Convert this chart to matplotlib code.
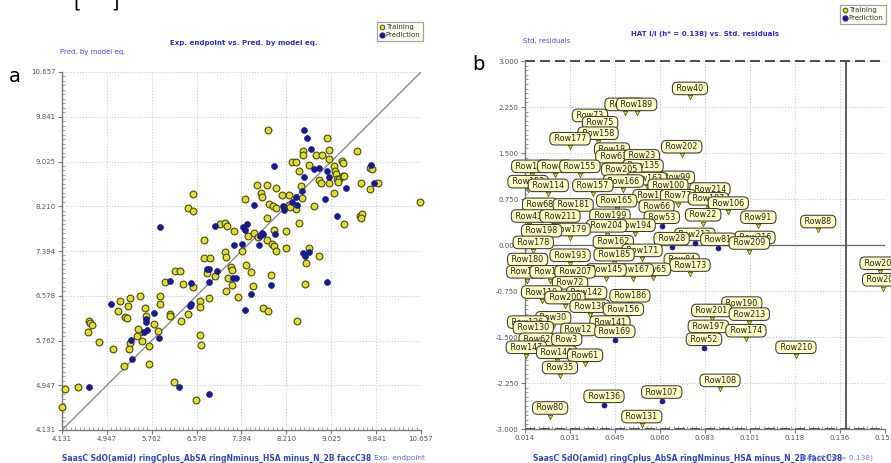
import numpy as np
import matplotlib
matplotlib.use('Agg')
import matplotlib.pyplot as plt
from matplotlib.ticker import AutoMinorLocator
from matplotlib.lines import Line2D

plt.rcParams['font.family'] = ['DejaVu Sans']

# ---------------- Panel a data (Exp. endpoint vs Pred. by model eq.) ----------------
a_ticklabels = ['4.131', '4.947', '5.762', '6.578', '7.394', '8.210', '9.025', '9.841', '10.657']
a_lo, a_hi = 4.131, 10.657

train_exp = [6.51, 6.42, 6.51, 7.00, 7.10, 7.13, 6.71, 7.09, 6.71, 6.83, 7.11, 7.87, 8.95, 8.51, 8.51,
             8.99, 8.74, 8.86, 8.98, 9.50, 8.31, 8.39, 8.63, 8.44, 9.07, 9.22, 9.24, 9.73, 9.77, 9.10,
             9.12, 9.13, 9.17, 9.24, 9.26, 9.14, 8.80, 8.84, 8.99, 9.57, 9.87, 9.73, 7.67, 7.85, 8.02,
             8.47, 7.75, 7.76, 7.46, 8.13, 8.26, 8.49, 9.08, 7.89, 7.97, 8.02, 8.26, 8.38, 8.28, 8.71,
             10.64, 9.54, 9.59, 9.56, 9.25, 7.85, 8.44,
             7.25, 7.51, 7.62, 7.99, 8.20, 7.85, 7.94, 7.99, 8.03, 7.70, 7.40, 8.20, 8.63, 8.81, 8.57,
             6.77, 6.91, 7.20, 7.22, 7.15, 7.47, 7.57, 7.93, 7.23, 7.61, 7.11, 7.33, 6.81, 6.64, 8.54,
             7.78, 7.88, 8.40, 6.64, 6.64, 6.66,
             6.19, 6.28, 6.01, 6.33, 6.51, 5.55, 5.91, 5.19, 5.36, 5.33, 5.15, 5.64, 5.91, 6.10, 6.10,
             6.42, 5.28, 5.31, 5.65, 5.80, 6.29, 4.62, 4.64, 4.68, 4.60, 4.81, 5.55, 5.51, 5.50, 5.59,
             5.37, 5.88, 5.71, 5.05, 5.34, 5.25, 5.71, 4.19, 4.42, 6.17, 6.57, 4.13]
train_pred = [8.44, 8.17, 8.13, 7.88, 7.90, 7.85, 7.60, 7.37, 7.26, 7.26, 7.28, 9.60, 9.45, 9.22, 9.15,
              9.24, 9.14, 9.14, 9.07, 9.21, 9.02, 9.02, 8.97, 8.86, 8.95, 9.03, 9.00, 8.90, 8.88, 8.86,
              8.80, 8.71, 8.70, 8.76, 8.76, 8.66, 8.69, 8.63, 8.64, 8.64, 8.64, 8.52, 8.60, 8.60, 8.54,
              8.57, 8.45, 8.37, 8.34, 8.42, 8.41, 8.36, 8.46, 8.25, 8.21, 8.17, 8.24, 8.16, 8.20, 8.21,
              8.28, 8.03, 8.06, 8.00, 7.88, 8.00, 7.90,
              7.75, 7.66, 7.73, 7.77, 7.75, 7.59, 7.53, 7.48, 7.40, 7.65, 7.39, 7.44, 7.44, 7.31, 7.17,
              6.99, 6.94, 7.11, 7.05, 6.91, 7.13, 7.02, 6.95, 6.78, 6.75, 6.66, 6.56, 6.54, 6.49, 6.80,
              6.36, 6.30, 6.11, 6.37, 5.86, 5.68,
              7.03, 7.03, 6.82, 6.80, 6.74, 6.58, 6.57, 6.48, 6.54, 6.39, 6.30, 6.36, 6.42, 6.25, 6.21,
              6.25, 6.19, 6.17, 6.20, 6.06, 6.11, 6.12, 6.08, 6.05, 5.91, 5.74, 5.91, 5.97, 5.84, 5.76,
              5.71, 5.93, 5.67, 5.61, 5.60, 5.30, 5.33, 4.87, 4.91, 5.00, 4.68, 4.55]

predset_exp = [5.91, 6.91, 8.53, 8.59, 8.65, 7.98, 8.80, 8.72, 9.75, 8.95, 8.99, 8.53, 9.30, 9.80, 8.49,
               8.39, 8.91, 7.63, 8.14, 8.16, 8.31, 8.40, 9.13, 7.42, 7.45, 7.50, 7.76, 7.79, 7.73, 8.00,
               7.25, 7.41, 7.71, 8.51, 8.54, 8.63, 6.76, 6.81, 6.94, 7.24, 7.30, 6.80, 7.93, 7.57, 8.95,
               7.46, 6.81, 6.10, 6.48, 5.03, 5.80, 6.47, 6.46, 5.66, 5.66, 5.67, 5.62, 5.39, 5.90, 5.40,
               4.62, 6.26]
predset_pred = [7.84, 7.85, 9.60, 9.46, 9.25, 8.94, 8.90, 8.88, 8.97, 8.86, 8.74, 8.74, 8.54, 8.64, 8.48,
                8.37, 8.34, 8.24, 8.21, 8.15, 8.28, 8.23, 8.04, 7.83, 7.77, 7.88, 7.73, 7.70, 7.66, 7.70,
                7.50, 7.53, 7.51, 7.35, 7.30, 7.37, 7.06, 7.06, 7.03, 6.91, 6.91, 6.83, 6.77, 6.61, 6.83,
                6.31, 4.79, 6.85, 6.81, 6.42, 6.27, 6.43, 6.39, 6.15, 6.10, 5.95, 5.92, 5.77, 5.80, 5.43,
                4.91, 4.91]

# ---------------- Panel b data (HAT vs Std. residuals) ----------------
b_xticklabels = ['0.014', '0.031', '0.049', '0.066', '0.083', '0.101', '0.118', '0.136', '0.153']
b_yticklabels = ['-3.000', '-2.250', '-1.500', '-0.750', '0.000', '0.750', '1.500', '2.250', '3.000']
b_xlo, b_xhi = 0.014, 0.153
h_star = 0.138

b_names = ['Row40', 'Row183', 'Row189', 'Row73', 'Row75', 'Row158', 'Row177', 'Row202', 'Row18', 'Row63',
           'Row23', 'Row151', 'Row47', 'Row155', 'Row135', 'Row205', 'Row99', 'Row163', 'Row166', 'Row152',
           'Row114', 'Row157', 'Row100', 'Row214', 'Row110', 'Row77', 'Row187', 'Row165', 'Row106', 'Row68',
           'Row181', 'Row66', 'Row22', 'Row43', 'Row211', 'Row199', 'Row91', 'Row53', 'Row88', 'Row194',
           'Row204', 'Row179', 'Row198', 'Row212', 'Row216', 'Row28', 'Row81', 'Row162', 'Row178', 'Row209',
           'Row171', 'Row185', 'Row193', 'Row84', 'Row180', 'Row173', 'Row206', 'Row65', 'Row167', 'Row145',
           'Row129', 'Row127', 'Row207', 'Row208', 'Row72', 'Row119', 'Row142', 'Row186', 'Row200', 'Row190',
           'Row138', 'Row156', 'Row201', 'Row213', 'Row30', 'Row126', 'Row141', 'Row197', 'Row130', 'Row12',
           'Row174', 'Row169', 'Row62', 'Row3', 'Row52', 'Row147', 'Row210', 'Row146', 'Row61', 'Row35',
           'Row108', 'Row107', 'Row136', 'Row80', 'Row131']
b_hat = [0.0777, 0.0526, 0.0571, 0.0391, 0.0430, 0.0422, 0.0314, 0.0745, 0.0476, 0.0481,
         0.0591, 0.0166, 0.0256, 0.0352, 0.0596, 0.0513, 0.0726, 0.0610, 0.0520, 0.0152,
         0.0230, 0.0402, 0.0692, 0.0854, 0.0634, 0.0731, 0.0848, 0.0494, 0.0925, 0.0198,
         0.0326, 0.0648, 0.0828, 0.0155, 0.0275, 0.0468, 0.1041, 0.0668, 0.1272, 0.0565,
         0.0455, 0.0314, 0.0204, 0.0796, 0.1028, 0.0706, 0.0886, 0.0481, 0.0172, 0.1006,
         0.0592, 0.0484, 0.0314, 0.0745, 0.0150, 0.0777, 0.1511, 0.0634, 0.0558, 0.0453,
         0.0147, 0.0237, 0.0333, 0.1521, 0.0314, 0.0204, 0.0378, 0.0545, 0.0294, 0.0977,
         0.0391, 0.0520, 0.0861, 0.1006, 0.0249, 0.0150, 0.0468, 0.0848, 0.0172, 0.0346,
         0.0993, 0.0487, 0.0185, 0.0301, 0.0831, 0.0145, 0.1186, 0.0262, 0.0372, 0.0275,
         0.0893, 0.0668, 0.0445, 0.0237, 0.0591]
b_res = [2.41, 2.15, 2.15, 1.97, 1.85, 1.68, 1.59, 1.46, 1.42, 1.30,
         1.31, 1.14, 1.14, 1.14, 1.15, 1.09, 0.96, 0.94, 0.90, 0.89,
         0.83, 0.83, 0.83, 0.77, 0.66, 0.66, 0.61, 0.58, 0.54, 0.52,
         0.51, 0.49, 0.35, 0.33, 0.33, 0.34, 0.31, 0.31, 0.24, 0.18,
         0.17, 0.11, 0.09, 0.03, -0.02, -0.04, -0.05, -0.09, -0.10, -0.11,
         -0.23, -0.30, -0.31, -0.38, -0.38, -0.47, -0.44, -0.54, -0.55, -0.55,
         -0.58, -0.58, -0.58, -0.71, -0.76, -0.91, -0.92, -0.97, -1.00, -1.09,
         -1.14, -1.19, -1.21, -1.27, -1.33, -1.40, -1.40, -1.47, -1.49, -1.52,
         -1.54, -1.55, -1.68, -1.68, -1.68, -1.81, -1.81, -1.89, -1.94, -2.14,
         -2.35, -2.54, -2.61, -2.80, -2.94]
b_set = ['T'] * len(b_names)
for _n in ['Row53', 'Row212', 'Row28', 'Row81', 'Row169', 'Row52', 'Row107', 'Row136']:
    b_set[b_names.index(_n)] = 'P'

# ---------------- styles ----------------
YEL_FC, YEL_EC = '#dede2e', '#4a4a12'
NAVY = '#1b1b8e'
TITLE_C = '#2b2bcc'
LAB_C = '#4a4ae6'
TICK_C = '#555555'

W, H = 891, 463
fig = plt.figure(figsize=(W / 100, H / 100), dpi=100)
fx = lambda px: px / W
fy = lambda py: 1 - py / H

axa = fig.add_axes([fx(62), fy(430), (421 - 62) / W, (430 - 72) / H])
axb = fig.add_axes([fx(525), fy(429), (885 - 525) / W, (429 - 61) / H])

for ax in (axa, axb):
    ax.set_facecolor('white')
    for s in ['top', 'right']:
        ax.spines[s].set_visible(False)
    for s in ['left', 'bottom']:
        ax.spines[s].set_color('#7a7a7a')
        ax.spines[s].set_linewidth(1.0)
    ax.grid(True, which='major', color='#c4c4c4', linestyle=(0, (1, 2)), linewidth=0.7)
    ax.xaxis.set_minor_locator(AutoMinorLocator(10))
    ax.yaxis.set_minor_locator(AutoMinorLocator(10))
    ax.tick_params(which='major', direction='out', length=3, width=0.8, color='#7a7a7a',
                   labelsize=5, labelcolor=TICK_C, pad=1.5)
    ax.tick_params(which='minor', direction='in', length=2, width=0.5, color='#7a7a7a')
    ax.set_axisbelow(True)

# ---- panel a ----
ta = np.linspace(a_lo, a_hi, 9)
axa.set_xlim(a_lo, a_hi)
axa.set_ylim(a_lo, a_hi)
axa.set_xticks(ta)
axa.set_xticklabels(a_ticklabels)
axa.set_yticks(ta)
axa.set_yticklabels(a_ticklabels)
axa.plot([a_lo, a_hi], [a_lo, a_hi], color='#8c8c8c', lw=1.0, zorder=2)
axa.scatter(train_exp, train_pred, s=24, facecolor=YEL_FC, edgecolor=YEL_EC, linewidth=0.8, zorder=3, clip_on=False)
axa.scatter(predset_exp, predset_pred, s=18, facecolor=NAVY, edgecolor=NAVY, linewidth=0.5, zorder=4, clip_on=False)

# ---- panel b ----
tbx = np.linspace(b_xlo, b_xhi, 9)
tby = np.linspace(-3, 3, 9)
axb.set_xlim(b_xlo, b_xhi)
axb.set_ylim(-3, 3)
axb.set_xticks(tbx)
axb.set_xticklabels(b_xticklabels)
axb.set_yticks(tby)
axb.set_yticklabels(b_yticklabels)
axb.axhline(0, color='#6e6e6e', lw=1.0, zorder=1)
axb.axvline(h_star, color='#505050', lw=1.3, zorder=1)
axb.axhline(3, color='#303030', lw=1.2, ls=(0, (6, 3)), zorder=1, clip_on=False)
axb.axhline(-3, color='#303030', lw=1.2, ls=(0, (6, 3)), zorder=1, clip_on=False)

z = 5
for n, h, r, st in zip(b_names, b_hat, b_res, b_set):
    if st == 'P':
        axb.scatter([h], [r], s=13, facecolor=NAVY, edgecolor=NAVY, linewidth=0.5, zorder=z, clip_on=False)
    else:
        axb.scatter([h], [r], s=10, marker='v', facecolor=YEL_FC, edgecolor=YEL_EC, linewidth=0.5, zorder=z, clip_on=False)
    axb.annotate(' ' + n + ' ', xy=(h, r), xytext=(0, 6.3), textcoords='offset points', ha='center', va='center',
                 fontsize=5.8, color='#222222', annotation_clip=False, zorder=z + 0.5,
                 bbox=dict(boxstyle='round,pad=0.22,rounding_size=0.6', fc='#ffffc4', ec='#3a3a3a', lw=0.75))
    z += 1

# ---- legends ----
handles = [Line2D([], [], marker='o', ls='', mfc=YEL_FC, mec=YEL_EC, ms=3.4, mew=0.7),
           Line2D([], [], marker='o', ls='', mfc=NAVY, mec=NAVY, ms=3.4)]
for (xr, yt) in [(423, 22), (886, 5)]:
    leg = fig.legend(handles, ['Training', 'Prediction'], loc='upper right',
                     bbox_to_anchor=(fx(xr), fy(yt)), bbox_transform=fig.transFigure,
                     fontsize=5, handlelength=0.6, handletextpad=0.3, borderpad=0.35,
                     labelspacing=0.25, fancybox=False, frameon=True, borderaxespad=0)
    leg.get_frame().set_edgecolor('#8a8a8a')
    leg.get_frame().set_facecolor('#fffff2')
    leg.get_frame().set_linewidth(0.9)
    for t in leg.get_texts():
        t.set_color('#333333')

# ---- texts ----
fig.text(fx(77), fy(8), '[', fontsize=14, ha='center', va='baseline', color='black')
fig.text(fx(115), fy(8), ']', fontsize=14, ha='center', va='baseline', color='black')
fig.text(fx(15), fy(77), 'a', fontsize=14, ha='center', va='center', color='black')
fig.text(fx(478), fy(64), 'b', fontsize=14, ha='center', va='center', color='black')

fig.text(fx(244), fy(43), 'Exp. endpoint vs. Pred. by model eq.', fontsize=5, fontweight='bold',
         color=TITLE_C, ha='center', va='center')
fig.text(fx(60), fy(52), 'Pred. by model eq.', fontsize=5, color=LAB_C, ha='left', va='center')
fig.text(fx(705), fy(34), 'HAT i/i (h* = 0.138) vs. Std. residuals', fontsize=5, fontweight='bold',
         color=TITLE_C, ha='center', va='center')
fig.text(fx(523), fy(41), 'Std. residuals', fontsize=5, color=LAB_C, ha='left', va='center')

desc = 'SaasC SdO(amid) ringCplus_AbSA ringNminus_HSA minus_N_2B faccC38'
fig.text(fx(62), fy(458), desc, fontsize=5.5, fontweight='bold', color='#3346c0', ha='left', va='center')
fig.text(fx(425), fy(458), 'Exp. endpoint', fontsize=5.3, color='#5566dd', ha='right', va='center')
fig.text(fx(533), fy(458), desc, fontsize=5.5, fontweight='bold', color='#3346c0', ha='left', va='center')
fig.text(fx(873), fy(458), 'HAT i/i (h* = 0.138)', fontsize=5.3, color='#7080e0', ha='right', va='center')

fig.savefig('out.png', dpi=100, facecolor='white')
